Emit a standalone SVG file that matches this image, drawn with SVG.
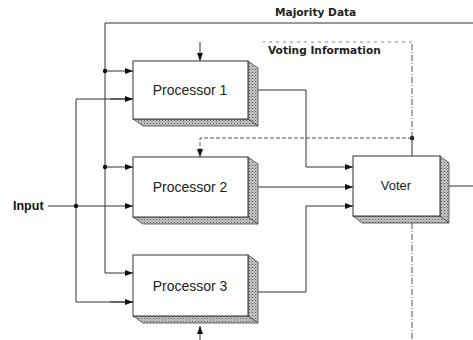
<svg xmlns="http://www.w3.org/2000/svg" width="473" height="340" viewBox="0 0 473 340">
  <defs>
    <pattern id="stipple" width="3" height="3" patternUnits="userSpaceOnUse">
      <rect width="3" height="3" fill="#c8c8c8"/>
      <rect x="0" y="0" width="1" height="1" fill="#555"/>
      <rect x="1.5" y="1.5" width="1" height="1" fill="#777"/>
    </pattern>
    <marker id="arrow" viewBox="0 0 8 6" refX="8" refY="3" markerWidth="8" markerHeight="6" markerUnits="userSpaceOnUse" orient="auto">
      <path d="M0,0 L8,3 L0,6 Z" fill="#111"/>
    </marker>
  </defs>
  <style>
    .front { fill: #fff; stroke: #333; stroke-width: 1; }
    .side { fill: url(#stipple); stroke: #444; stroke-width: 0.8; }
    .label { font-family: "Liberation Sans", Arial, sans-serif; font-size: 14px; fill: #222; text-anchor: middle; }
    .note { font-family: "DejaVu Sans", sans-serif; font-weight: bold; font-size: 10.6px; fill: #222; }
    .input { font-family: "Liberation Sans", Arial, sans-serif; font-weight: bold; font-size: 12.5px; fill: #111; }
    .wire { fill: none; stroke: #333; stroke-width: 1; }
    .dash { fill: none; stroke: #555; stroke-width: 1; stroke-dasharray: 4 2; }
    .faint { fill: none; stroke: #888; stroke-width: 1; stroke-dasharray: 3 4; }
    .dashdot { fill: none; stroke: #555; stroke-width: 1; stroke-dasharray: 6 2 1 2; }
    .dot { fill: #111; }
  </style>

  <!-- signal lines -->
  <g id="connectors">
    <!-- majority data feedback -->
    <polyline class="wire" points="473,23 105,23 105,273 133,273" marker-end="url(#arrow)"/>
    <line class="wire" x1="105" y1="71" x2="133" y2="71" marker-end="url(#arrow)"/>
    <line class="wire" x1="105" y1="167" x2="133" y2="167" marker-end="url(#arrow)"/>
    <circle class="dot" cx="105" cy="71" r="2.2"/>
    <circle class="dot" cx="105" cy="167" r="2.2"/>

    <!-- input distribution -->
    <line class="wire" x1="48" y1="206" x2="133" y2="206" marker-end="url(#arrow)"/>
    <polyline class="wire" points="133,99 76,99 76,302 133,302"/>
    <line class="wire" x1="110" y1="99" x2="133" y2="99" marker-end="url(#arrow)"/>
    <line class="wire" x1="110" y1="302" x2="133" y2="302" marker-end="url(#arrow)"/>
    <circle class="dot" cx="76" cy="206" r="2.2"/>

    <!-- processor outputs to voter -->
    <polyline class="wire" points="258,90 306,90 306,167 353,167" marker-end="url(#arrow)"/>
    <line class="wire" x1="258" y1="187" x2="353" y2="187" marker-end="url(#arrow)"/>
    <polyline class="wire" points="258,292 306,292 306,206 353,206" marker-end="url(#arrow)"/>

    <!-- voter output -->
    <line class="wire" x1="449" y1="186" x2="473" y2="186"/>

    <!-- voting information -->
    <line class="wire" x1="412" y1="156" x2="412" y2="138"/>
    <circle class="dot" cx="412" cy="138" r="2.2"/>
    <polyline class="dash" points="412,138 200,138 200,157" marker-end="url(#arrow)"/>
    <line class="dashdot" x1="412" y1="138" x2="412" y2="42"/>
    <line class="faint" x1="412" y1="42" x2="263" y2="42"/>
    <line class="wire" x1="200" y1="42" x2="200" y2="61" marker-end="url(#arrow)"/>
    <line class="wire" x1="200" y1="340" x2="200" y2="326" marker-end="url(#arrow)"/>
    <line class="dashdot" x1="412" y1="223" x2="412" y2="340"/>
  </g>

  <g id="processor1">
    <polygon class="side" points="248,61 258,68 258,126 248,119"/>
    <polygon class="side" points="133,119 143,126 258,126 248,119"/>
    <rect class="front" x="133" y="61" width="115" height="58"/>
    <text class="label" x="190" y="95">Processor 1</text>
  </g>

  <g id="processor2">
    <polygon class="side" points="248,157 258,164 258,224 248,217"/>
    <polygon class="side" points="133,217 143,224 258,224 248,217"/>
    <rect class="front" x="133" y="157" width="115" height="60"/>
    <text class="label" x="190" y="192">Processor 2</text>
  </g>

  <g id="processor3">
    <polygon class="side" points="248,255 258,262 258,323 248,316"/>
    <polygon class="side" points="133,316 143,323 258,323 248,316"/>
    <rect class="front" x="133" y="255" width="115" height="61"/>
    <text class="label" x="190" y="291">Processor 3</text>
  </g>

  <g id="voter">
    <polygon class="side" points="440,156 449,163 449,223 440,216"/>
    <polygon class="side" points="353,216 362,223 449,223 440,216"/>
    <rect class="front" x="353" y="156" width="87" height="60"/>
    <text class="label" x="396" y="190" style="font-size:13px">Voter</text>
  </g>

  <g id="labels">
    <text class="input" x="13" y="210">Input</text>
    <text class="note" x="275" y="16">Majority Data</text>
    <text class="note" x="268" y="54">Voting Information</text>
  </g>
</svg>
